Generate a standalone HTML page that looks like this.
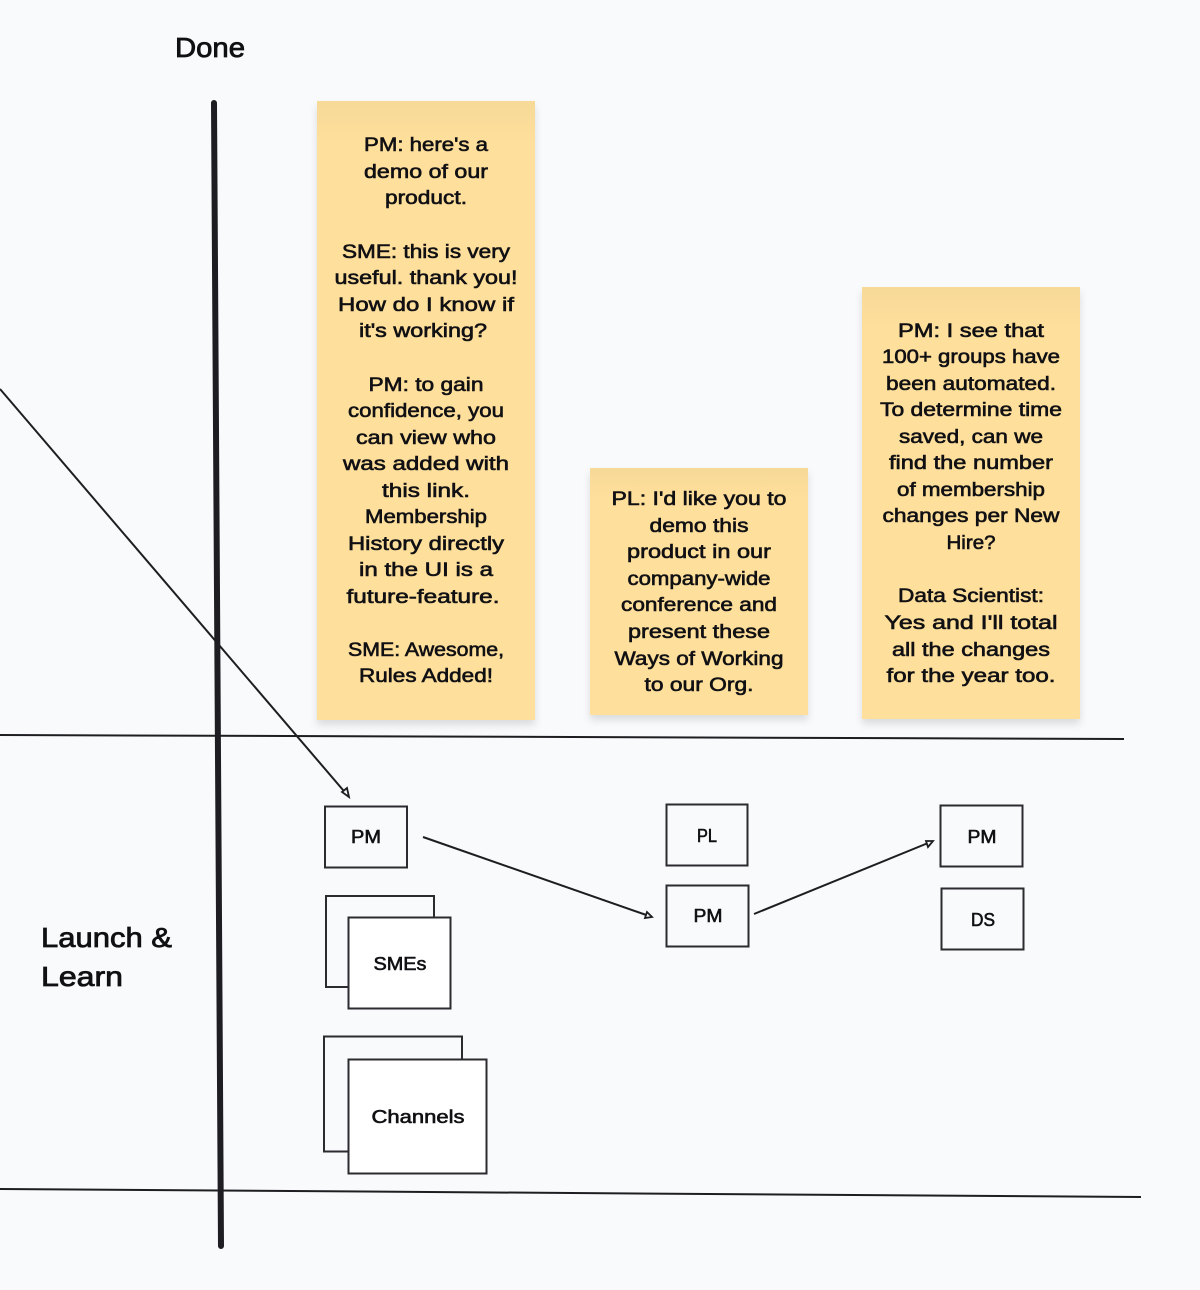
<!DOCTYPE html>
<html><head><meta charset="utf-8"><style>
html,body{margin:0;padding:0;background:#f9fafc}
svg{display:block}
text{font-family:"Liberation Sans",sans-serif;font-size:19px;fill:#111114;text-anchor:middle;stroke:#111114;stroke-width:.6;dominant-baseline:auto}
.s{font-size:18px}
.h{font-size:28px;stroke-width:.8;text-anchor:start}
rect.b{fill:#fff;stroke:#2b2b30;stroke-width:2}
rect.t{fill:none;stroke:#2b2b30;stroke-width:2}
line.l{stroke:#1e1e22;stroke-width:2}
polygon.a{fill:#f9fafc;stroke:#1e1e22;stroke-width:1.8}
</style></head><body>
<svg width="1200" height="1290" viewBox="0 0 1200 1290" xmlns="http://www.w3.org/2000/svg">
<defs>
<linearGradient id="g" x1="0" y1="0" x2="0" y2="1"><stop offset="0" stop-color="#f7d998"/><stop offset="1" stop-color="#fedf9b"/></linearGradient>
<filter id="sh" x="-10%" y="-5%" width="120%" height="112%"><feDropShadow dx="0" dy="5" stdDeviation="4" flood-color="#000" flood-opacity=".12"/></filter>
</defs>
<rect width="1200" height="1290" fill="#f9fafc"/>

<rect x="317" y="101" width="218" height="619" fill="#fedf9b" filter="url(#sh)"/>
<rect x="317" y="101" width="218" height="40" fill="url(#g)"/>
<rect x="590" y="468" width="218" height="247" fill="#fedf9b" filter="url(#sh)"/>
<rect x="590" y="468" width="218" height="30" fill="url(#g)"/>
<rect x="862" y="287" width="218" height="432" fill="#fedf9b" filter="url(#sh)"/>
<rect x="862" y="287" width="218" height="40" fill="url(#g)"/>

<line x1="214" y1="103" x2="221" y2="1246" stroke="#1e1e22" stroke-width="6" stroke-linecap="round"/>
<line class="l" x1="0" y1="735" x2="1124" y2="739"/>
<line class="l" x1="0" y1="1189" x2="1141" y2="1197"/>
<line class="l" x1="0" y1="389" x2="349" y2="797"/>
<polygon class="a" points="349,797 342,792 347,788"/>
<line class="l" x1="423" y1="837" x2="652" y2="917"/>
<polygon class="a" points="652,917 645,918 647,912"/>
<line class="l" x1="754" y1="914" x2="933" y2="841"/>
<polygon class="a" points="933,841 926,841 928,847"/>

<rect class="t" x="325" y="806.500" width="82" height="61"/>
<rect class="t" x="666.500" y="804.500" width="81" height="61"/>
<rect class="t" x="666.500" y="885.500" width="82" height="61"/>
<rect class="t" x="940.500" y="805.500" width="82" height="61"/>
<rect class="t" x="941.500" y="888.500" width="82" height="61"/>
<rect class="t" x="326" y="896" width="108" height="91"/>
<rect class="b" x="348.500" y="917.500" width="102" height="91"/>
<rect class="t" x="324" y="1036.500" width="138" height="115"/>
<rect class="b" x="348.500" y="1059.500" width="138" height="114"/>

<text class="h" x="175" y="57" textLength="70" lengthAdjust="spacingAndGlyphs">Done</text>
<text class="h" x="41" y="947" textLength="131" lengthAdjust="spacingAndGlyphs">Launch &amp;</text>
<text class="h" x="41" y="986" textLength="82" lengthAdjust="spacingAndGlyphs">Learn</text>

<text class="s" x="366" y="843" textLength="30" lengthAdjust="spacingAndGlyphs">PM</text>
<text class="s" x="707" y="842" textLength="20" lengthAdjust="spacingAndGlyphs">PL</text>
<text class="s" x="708" y="922" textLength="29" lengthAdjust="spacingAndGlyphs">PM</text>
<text class="s" x="982" y="843" textLength="29" lengthAdjust="spacingAndGlyphs">PM</text>
<text class="s" x="983" y="926" textLength="24" lengthAdjust="spacingAndGlyphs">DS</text>
<text class="s" x="400" y="970" textLength="53" lengthAdjust="spacingAndGlyphs">SMEs</text>
<text class="s" x="418" y="1123" textLength="93" lengthAdjust="spacingAndGlyphs">Channels</text>

<text x="426" y="151" textLength="124" lengthAdjust="spacingAndGlyphs">PM: here's a</text>
<text x="426" y="178" textLength="124" lengthAdjust="spacingAndGlyphs">demo of our</text>
<text x="426" y="204" textLength="82" lengthAdjust="spacingAndGlyphs">product.</text>
<text x="426" y="258" textLength="168" lengthAdjust="spacingAndGlyphs">SME: this is very</text>
<text x="426" y="284" textLength="183" lengthAdjust="spacingAndGlyphs">useful. thank you!</text>
<text x="426" y="311" textLength="176" lengthAdjust="spacingAndGlyphs">How do I know if</text>
<text x="423" y="337" textLength="128" lengthAdjust="spacingAndGlyphs">it's working?</text>
<text x="426" y="391" textLength="115" lengthAdjust="spacingAndGlyphs">PM: to gain</text>
<text x="426" y="417" textLength="156" lengthAdjust="spacingAndGlyphs">confidence, you</text>
<text x="426" y="444" textLength="140" lengthAdjust="spacingAndGlyphs">can view who</text>
<text x="426" y="470" textLength="166" lengthAdjust="spacingAndGlyphs">was added with</text>
<text x="426" y="497" textLength="88" lengthAdjust="spacingAndGlyphs">this link.</text>
<text x="426" y="523" textLength="122" lengthAdjust="spacingAndGlyphs">Membership</text>
<text x="426" y="550" textLength="156" lengthAdjust="spacingAndGlyphs">History directly</text>
<text x="426" y="576" textLength="134" lengthAdjust="spacingAndGlyphs">in the UI is a</text>
<text x="423" y="603" textLength="153" lengthAdjust="spacingAndGlyphs">future-feature.</text>
<text x="426" y="656" textLength="156" lengthAdjust="spacingAndGlyphs">SME: Awesome,</text>
<text x="426" y="682" textLength="134" lengthAdjust="spacingAndGlyphs">Rules Added!</text>

<text x="699" y="505" textLength="175" lengthAdjust="spacingAndGlyphs">PL: I'd like you to</text>
<text x="699" y="532" textLength="99" lengthAdjust="spacingAndGlyphs">demo this</text>
<text x="699" y="558" textLength="144" lengthAdjust="spacingAndGlyphs">product in our</text>
<text x="699" y="585" textLength="143" lengthAdjust="spacingAndGlyphs">company-wide</text>
<text x="699" y="611" textLength="156" lengthAdjust="spacingAndGlyphs">conference and</text>
<text x="699" y="638" textLength="142" lengthAdjust="spacingAndGlyphs">present these</text>
<text x="699" y="665" textLength="169" lengthAdjust="spacingAndGlyphs">Ways of Working</text>
<text x="699" y="691" textLength="109" lengthAdjust="spacingAndGlyphs">to our Org.</text>

<text x="971" y="337" textLength="146" lengthAdjust="spacingAndGlyphs">PM: I see that</text>
<text x="971" y="363" textLength="178" lengthAdjust="spacingAndGlyphs">100+ groups have</text>
<text x="971" y="390" textLength="170" lengthAdjust="spacingAndGlyphs">been automated.</text>
<text x="971" y="416" textLength="182" lengthAdjust="spacingAndGlyphs">To determine time</text>
<text x="971" y="443" textLength="144" lengthAdjust="spacingAndGlyphs">saved, can we</text>
<text x="971" y="469" textLength="164" lengthAdjust="spacingAndGlyphs">find the number</text>
<text x="971" y="496" textLength="148" lengthAdjust="spacingAndGlyphs">of membership</text>
<text x="971" y="522" textLength="177" lengthAdjust="spacingAndGlyphs">changes per New</text>
<text x="971" y="549" textLength="49" lengthAdjust="spacingAndGlyphs">Hire?</text>
<text x="971" y="602" textLength="146" lengthAdjust="spacingAndGlyphs">Data Scientist:</text>
<text x="971" y="629" textLength="173" lengthAdjust="spacingAndGlyphs">Yes and I'll total</text>
<text x="971" y="656" textLength="158" lengthAdjust="spacingAndGlyphs">all the changes</text>
<text x="971" y="682" textLength="169" lengthAdjust="spacingAndGlyphs">for the year too.</text>
</svg>
</body></html>
